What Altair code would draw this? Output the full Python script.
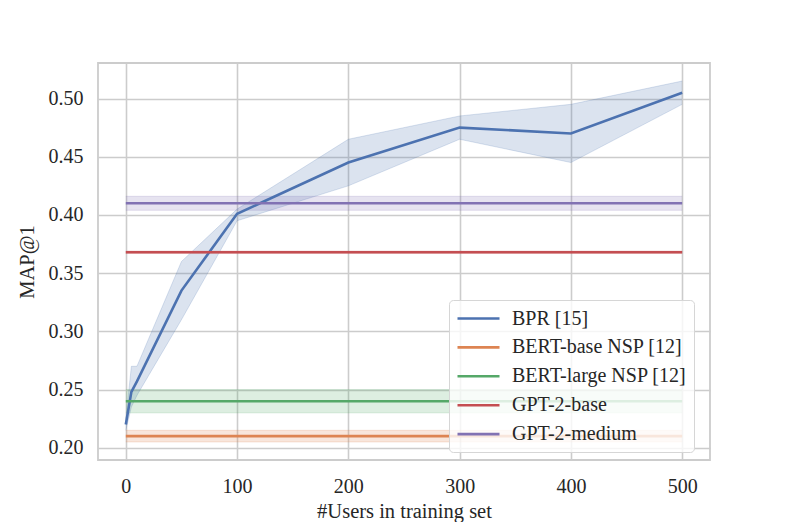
import altair as alt
import pandas as pd

# ---- data ----
x_users = [0, 5, 10, 50, 100, 200, 300, 400, 500]
bpr_mean = [0.220, 0.248, 0.257, 0.335, 0.401, 0.445, 0.475, 0.470, 0.505]
bpr_lo = [0.215, 0.235, 0.245, 0.310, 0.395, 0.425, 0.465, 0.445, 0.495]
bpr_hi = [0.225, 0.270, 0.270, 0.360, 0.405, 0.465, 0.485, 0.495, 0.515]

baseline_names = ["BERT-base NSP [12]", "BERT-large NSP [12]", "GPT-2-base", "GPT-2-medium"]
baseline_mean = [0.210, 0.240, 0.368, 0.410]
baseline_lo = [0.205, 0.230, 0.367, 0.404]
baseline_hi = [0.215, 0.250, 0.369, 0.416]

series_names = ["BPR [15]"] + baseline_names
series_colors = ["#4c72b0", "#dd8452", "#55a868", "#c44e52", "#8172b3"]

y_ticks = [0.20, 0.25, 0.30, 0.35, 0.40, 0.45, 0.50]
x_ticks = [0, 100, 200, 300, 400, 500]

rows = []
for i, xv in enumerate(x_users):
    rows.append({"series": "BPR [15]", "x": xv, "y": bpr_mean[i], "lo": bpr_lo[i], "hi": bpr_hi[i]})
for j, name in enumerate(baseline_names):
    for xv in x_users:
        rows.append({"series": name, "x": xv, "y": baseline_mean[j], "lo": baseline_lo[j], "hi": baseline_hi[j]})
df = pd.DataFrame(rows)

FONT = "Liberation Serif"

legend = alt.Legend(
    title=None,
    orient="none",
    legendX=351,
    legendY=237,
    symbolType="M-2.1,0H2.1",
    symbolSize=400,
    symbolStrokeWidth=2.6,
    symbolOpacity=1,
    symbolOffset=11,
    labelFontSize=20,
    labelFont=FONT,
    labelColor="#262626",
    labelOffset=22,
    rowPadding=6.9,
    padding=7,
    fillColor="rgba(255,255,255,0.8)",
    strokeColor="#d6d6d6",
    cornerRadius=4,
    labelLimit=400,
)

color = alt.Color(
    "series:N",
    scale=alt.Scale(domain=series_names, range=series_colors),
    sort=series_names,
    legend=legend,
)

xenc = alt.X(
    "x:Q",
    scale=alt.Scale(domain=[-25, 525], nice=False, zero=False),
    axis=alt.Axis(values=x_ticks, title="#Users in training set", format="d"),
)
yscale = alt.Scale(domain=[0.1895, 0.5305], nice=False, zero=False)
yaxis = alt.Axis(values=y_ticks, format=".2f", title="MAP@1")

base = alt.Chart(df)

bands = base.mark_area(opacity=0.2, strokeWidth=0).encode(
    x=xenc,
    y=alt.Y("lo:Q", scale=yscale, axis=yaxis),
    y2="hi:Q",
    color=color,
    detail="series:N",
)

band_edges_lo = base.mark_line(strokeWidth=1, opacity=0.2).encode(
    x=xenc,
    y=alt.Y("lo:Q", scale=yscale, axis=yaxis),
    color=color,
    detail="series:N",
)
band_edges_hi = base.mark_line(strokeWidth=1, opacity=0.2).encode(
    x=xenc,
    y=alt.Y("hi:Q", scale=yscale, axis=yaxis),
    color=color,
    detail="series:N",
)

lines = base.mark_line(strokeWidth=2.6).encode(
    x=xenc,
    y=alt.Y("y:Q", scale=yscale, axis=yaxis),
    color=color,
)

chart = (
    alt.layer(bands, band_edges_lo, band_edges_hi, lines)
    .properties(
        width=612,
        height=397,
        autosize=alt.AutoSizeParams(type="none"),
        padding={"left": 90, "top": 55, "right": 71, "bottom": 62},
        background="white",
    )
    .configure_view(stroke="#cccccc", strokeWidth=1.8)
    .configure_axis(
        labelFont=FONT,
        titleFont=FONT,
        labelFontSize=20,
        titleFontSize=20.5,
        titleFontWeight="normal",
        labelColor="#262626",
        titleColor="#262626",
        grid=True,
        gridColor="#cccccc",
        gridWidth=1.6,
        domain=False,
        ticks=False,
    )
    .configure_axisX(labelPadding=16, titlePadding=5)
    .configure_axisY(labelPadding=15, titlePadding=11)
)

chart.save("out.html", embed_options={"renderer": "svg", "actions": False})
